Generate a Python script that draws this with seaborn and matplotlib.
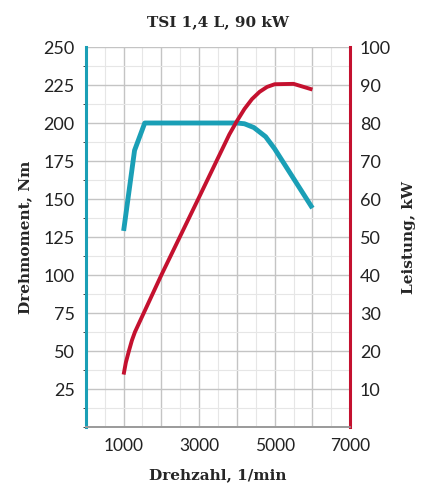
import numpy as np
import pandas as pd
import matplotlib
matplotlib.use("Agg")
import matplotlib.pyplot as plt
import seaborn as sns
from matplotlib.ticker import MultipleLocator

# Data
rpm_torque = [1000, 1290, 1560, 4000, 4200, 4450, 4760, 5000, 6000]
torque_nm = [129, 182, 200, 200, 199.5, 197, 191, 183, 144]

rpm_power = [1000, 1060, 1140, 1220, 1300, 2000, 3000, 3800, 4000, 4200,
             4400, 4600, 4800, 5000, 5500, 6000]
power_kw = [13.8, 17, 20, 22.8, 25, 40, 60.5, 77, 80.5, 83.7,
            86.3, 88.2, 89.5, 90.2, 90.3, 88.8]

blue = "#1a9fb6"
red = "#c4112f"

sns.set_style("white")
plt.rcParams['font.family'] = ['Lato', 'DejaVu Sans']

fig = plt.figure(figsize=(4.25, 5), dpi=100)
ax = fig.add_axes([0.202, 0.146, 0.622, 0.76])
ax2 = ax.twinx()

torque_df = pd.DataFrame({"rpm": rpm_torque, "torque": torque_nm})
power_df = pd.DataFrame({"rpm": rpm_power, "power": power_kw})

sns.lineplot(data=torque_df, x="rpm", y="torque", ax=ax, color=blue, lw=3.5,
             solid_joinstyle="round", solid_capstyle="butt")
sns.lineplot(data=power_df, x="rpm", y="power", ax=ax2, color=red, lw=2.8,
             solid_joinstyle="round", solid_capstyle="butt")

ax.set_xlim(0, 7000)
ax.set_ylim(0, 250)
ax2.set_ylim(0, 100)

# grid
ax.xaxis.set_major_locator(MultipleLocator(1000))
ax.xaxis.set_minor_locator(MultipleLocator(500))
ax.yaxis.set_major_locator(MultipleLocator(25))
ax.yaxis.set_minor_locator(MultipleLocator(12.5))
ax.grid(which="major", color="#c4c4c4", lw=1.0)
ax.grid(which="minor", color="#e6e6e6", lw=0.8)
ax.set_axisbelow(True)

ax.set_xticks([1000, 2000, 3000, 4000, 5000, 6000, 7000])
ax.set_xticklabels(["1000", "", "3000", "", "5000", "", "7000"])
ax.set_yticks([25, 50, 75, 100, 125, 150, 175, 200, 225, 250])
ax2.set_yticks([10, 20, 30, 40, 50, 60, 70, 80, 90, 100])

ax.tick_params(axis="x", length=4, color="#9a9a9a", labelsize=12.5, pad=4, labelcolor="#222222")
ax.tick_params(axis="y", length=0, labelsize=13, pad=8, labelcolor="#222222")
ax2.tick_params(axis="y", length=0, labelsize=13, pad=7, labelcolor="#222222")

for a in (ax, ax2):
    a.spines["top"].set_visible(False)
    a.spines["bottom"].set_color("#9a9a9a")
    a.spines["bottom"].set_linewidth(1.2)
ax.spines["left"].set_color(blue)
ax.spines["left"].set_linewidth(2.2)
ax.spines["right"].set_visible(False)
ax2.spines["left"].set_visible(False)
ax2.spines["right"].set_color(red)
ax2.spines["right"].set_linewidth(2.2)

serif = {"family": "DejaVu Serif", "weight": "bold", "size": 11}
ax.set_xlabel("Drehzahl, 1/min", fontdict=serif, labelpad=10)
ax.set_ylabel("Drehmoment, Nm", fontdict=serif, labelpad=8)
ax2.set_ylabel("Leistung, kW", fontdict=serif, labelpad=8)
ax.set_title("TSI 1,4 L, 90 kW", fontdict=serif, pad=15)

fig.savefig("out.png", dpi=100, facecolor="white")
